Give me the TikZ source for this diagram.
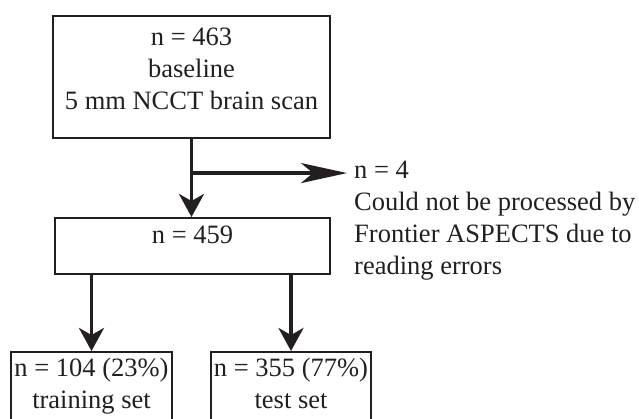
\documentclass[tikz,border=0pt]{standalone}
\usepackage{fontspec}
\setmainfont{Liberation Serif}
\usetikzlibrary{positioning,calc,arrows.meta}
\definecolor{ink}{RGB}{35,31,32}

\begin{document}
\begin{tikzpicture}[
    x=1pt, y=1pt,
    box/.style={rectangle, draw=ink, line width=2pt, text=ink, align=center, font=\fontsize{26.5pt}{32pt}\selectfont, inner xsep=3pt},
    note/.style={text=ink, align=left, font=\fontsize{26.5pt}{32pt}\selectfont, inner xsep=7pt, inner ysep=4pt},
    flow/.style={draw=ink, line width=3.5pt, -{Stealth[length=23pt, width=25pt, inset=7pt]}},
    side/.style={draw=ink, line width=3.5pt, -{Stealth[length=46pt, width=20pt, inset=12pt]}}
]
    \useasboundingbox (0,0) rectangle (639,-418);

    % Boxes
    \node[box, anchor=north, minimum width=277pt, inner ysep=12pt] (scan) at (191.5,-15)
        {n = 463\\ baseline\\ 5 mm NCCT brain scan\rule[-16pt]{0pt}{16pt}};
    \node[box, anchor=north, minimum width=275pt, inner ysep=8pt] (included) at (192.5,-217)
        {n = 459\rule[-22pt]{0pt}{22pt}};
    \node[box, anchor=north, inner ysep=6pt] (train) at (91.5,-351)
        {n = 104 (23\%)\\ training set\rule[-14pt]{0pt}{14pt}};
    \node[box, anchor=north, inner ysep=6pt] (test) at (291,-351)
        {n = 355 (77\%)\\ test set\rule[-14pt]{0pt}{14pt}};

    % Excluded scans
    \node[note, anchor=north west] (excl) at (347,-157)
        {n = 4\\ Could not be processed by\\ Frontier ASPECTS due to\\ reading errors};

    % Arrows
    \coordinate (split) at ($(scan.south)!0.44!(scan.south |- included.north)$);
    \draw[flow] (scan.south) -- (scan.south |- included.north);
    \draw[side] (split) -- (split -| excl.west);
    \draw[flow] (included.south -| train.north) -- (train.north);
    \draw[flow] (included.south -| test.north) -- (test.north);
\end{tikzpicture}
\end{document}
